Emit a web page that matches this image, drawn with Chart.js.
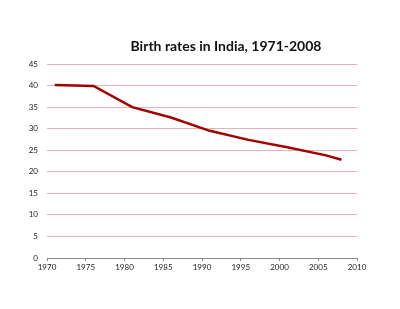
<!DOCTYPE html>
<html>
<head>
<meta charset="utf-8">
<script src="https://cdn.jsdelivr.net/npm/chart.js@4"></script>
<style>
  html, body { margin: 0; padding: 0; background: #fff; }
  .chart { width: 400px; height: 309px; }
</style>
</head>
<body>
<div class="chart"><canvas id="myChart" width="400" height="309"></canvas></div>
<script>
// values
const years = [1971, 1976, 1981, 1986, 1991, 1996, 2001, 2006, 2008];
const birthRates = [40.1, 39.9, 35.0, 32.6, 29.5, 27.4, 25.7, 23.8, 22.8];
const xTicks = [1970, 1975, 1980, 1985, 1990, 1995, 2000, 2005, 2010];
const yTicks = [0, 5, 10, 15, 20, 25, 30, 35, 40, 45];
const chartTitle = 'Birth rates in India, 1971-2008';

let points = years.map((y, i) => ({ x: y, y: birthRates[i] }));
let ctx = document.querySelector("#myChart").getContext('2d');

// title sits right of centre in the original, so draw it by hand
const titlePlugin = {
    id: 'offsetTitle',
    afterDraw(chart) {
        let c = chart.ctx;
        c.save();
        c.font = 'bold 14px Lato';
        c.fillStyle = '#111';
        c.textAlign = 'center';
        c.textBaseline = 'middle';
        c.fillText(chartTitle, 226, 46);
        c.restore();
    }
};

let myChart = new Chart(ctx, {
    type: 'line',
    data: {
        datasets: [{
            label: 'Birth rate',
            data: points,
            borderColor: '#a30000',
            borderWidth: 2.5,
            pointRadius: 0,
            tension: 0,
            fill: false
        }]
    },
    options: {
        responsive: false,
        animation: false,
        layout: { padding: { top: 64, left: 20, right: 43, bottom: 33 } },
        plugins: {
            legend: { display: false },
            tooltip: { enabled: false },
            title: { display: false }
        },
        scales: {
            x: {
                type: 'linear',
                min: xTicks[0],
                max: xTicks[xTicks.length - 1],
                afterBuildTicks: s => { s.ticks = xTicks.map(v => ({ value: v })); },
                afterFit: s => { s.height = 18; },
                grid: { drawOnChartArea: false, drawTicks: true, tickLength: 3, color: '#888' },
                border: { display: true, color: '#888' },
                ticks: {
                    color: '#222',
                    padding: 2,
                    maxRotation: 0,
                    font: { family: 'Lato', size: 8 },
                    callback: v => String(v)
                }
            },
            y: {
                min: yTicks[0],
                max: yTicks[yTicks.length - 1],
                afterBuildTicks: s => { s.ticks = yTicks.map(v => ({ value: v })); },
                afterFit: s => { s.width = 27; },
                grid: { color: '#e2b4b8', lineWidth: 1, drawTicks: false },
                border: { display: false },
                ticks: {
                    color: '#222',
                    padding: 9,
                    font: { family: 'Lato', size: 8 }
                }
            }
        }
    },
    plugins: [titlePlugin]
});
</script>
</body>
</html>
